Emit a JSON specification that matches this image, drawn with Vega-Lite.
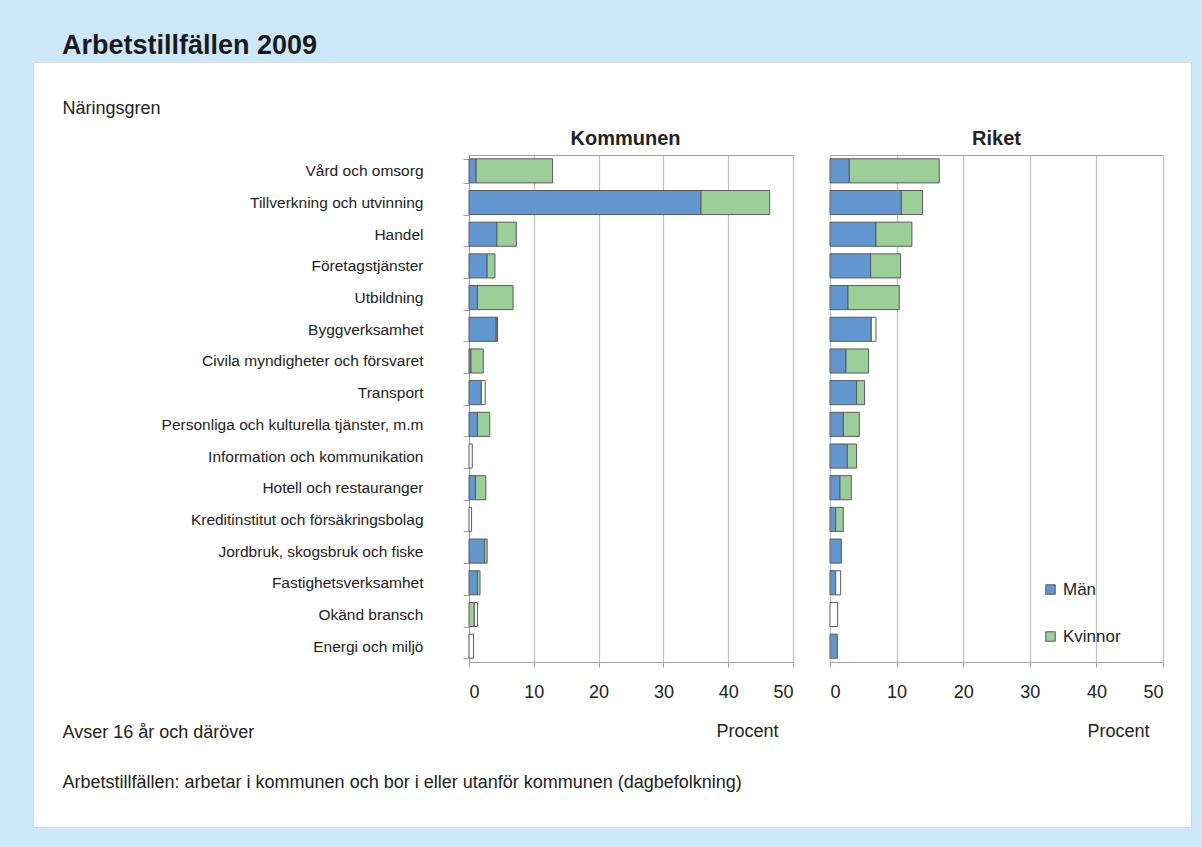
{
  "$schema": "https://vega.github.io/schema/vega-lite/v6.json",
  "width": 1158,
  "height": 765,
  "autosize": {"type": "none"},
  "padding": {"left": 33, "top": 62, "right": 11, "bottom": 20},
  "background": "#cce8fa",
  "view": {"fill": "#ffffff", "stroke": "#d8d8d8"},
  "title": {
    "text": "Arbetstillfällen 2009",
    "anchor": "start",
    "frame": "group",
    "dx": 29,
    "offset": -26,
    "baseline": "alphabetic",
    "font": "Liberation Sans",
    "fontSize": 27,
    "fontWeight": "bold",
    "color": "#1a1a1a"
  },
  "config": {
    "font": "Liberation Sans",
    "axis": {"labelColor": "#222222", "titleColor": "#222222", "labelFont": "Liberation Sans", "titleFont": "Liberation Sans"}
  },
  "datasets": {
    "kommunen": [
      {"bransch": "Vård och omsorg", "kon": "Män", "procent": 1.1},
      {"bransch": "Vård och omsorg", "kon": "Kvinnor", "procent": 11.8},
      {"bransch": "Tillverkning och utvinning", "kon": "Män", "procent": 35.8},
      {"bransch": "Tillverkning och utvinning", "kon": "Kvinnor", "procent": 10.6},
      {"bransch": "Handel", "kon": "Män", "procent": 4.3},
      {"bransch": "Handel", "kon": "Kvinnor", "procent": 3.0},
      {"bransch": "Företagstjänster", "kon": "Män", "procent": 2.8},
      {"bransch": "Företagstjänster", "kon": "Kvinnor", "procent": 1.2},
      {"bransch": "Utbildning", "kon": "Män", "procent": 1.3},
      {"bransch": "Utbildning", "kon": "Kvinnor", "procent": 5.5},
      {"bransch": "Byggverksamhet", "kon": "Män", "procent": 4.2},
      {"bransch": "Byggverksamhet", "kon": "Kvinnor", "procent": 0.2},
      {"bransch": "Civila myndigheter och försvaret", "kon": "Män", "procent": 0.3},
      {"bransch": "Civila myndigheter och försvaret", "kon": "Kvinnor", "procent": 1.9},
      {"bransch": "Transport", "kon": "Män", "procent": 1.9},
      {"bransch": "Transport", "kon": "Ej angivet", "procent": 0.6},
      {"bransch": "Personliga och kulturella tjänster, m.m", "kon": "Män", "procent": 1.3},
      {"bransch": "Personliga och kulturella tjänster, m.m", "kon": "Kvinnor", "procent": 1.9},
      {"bransch": "Information och kommunikation", "kon": "Ej angivet", "procent": 0.5},
      {"bransch": "Hotell och restauranger", "kon": "Män", "procent": 1.0},
      {"bransch": "Hotell och restauranger", "kon": "Kvinnor", "procent": 1.6},
      {"bransch": "Kreditinstitut och försäkringsbolag", "kon": "Ej angivet", "procent": 0.4},
      {"bransch": "Jordbruk, skogsbruk och fiske", "kon": "Män", "procent": 2.4},
      {"bransch": "Jordbruk, skogsbruk och fiske", "kon": "Kvinnor", "procent": 0.4},
      {"bransch": "Fastighetsverksamhet", "kon": "Män", "procent": 1.3},
      {"bransch": "Fastighetsverksamhet", "kon": "Kvinnor", "procent": 0.4},
      {"bransch": "Okänd bransch", "kon": "Ej angivet", "procent": 0.5},
      {"bransch": "Okänd bransch", "kon": "Kvinnor", "procent": 0.8},
      {"bransch": "Energi och miljö", "kon": "Ej angivet", "procent": 0.7}
    ],
    "riket": [
      {"bransch": "Vård och omsorg", "kon": "Män", "procent": 2.9},
      {"bransch": "Vård och omsorg", "kon": "Kvinnor", "procent": 13.5},
      {"bransch": "Tillverkning och utvinning", "kon": "Män", "procent": 10.7},
      {"bransch": "Tillverkning och utvinning", "kon": "Kvinnor", "procent": 3.2},
      {"bransch": "Handel", "kon": "Män", "procent": 6.9},
      {"bransch": "Handel", "kon": "Kvinnor", "procent": 5.4},
      {"bransch": "Företagstjänster", "kon": "Män", "procent": 6.1},
      {"bransch": "Företagstjänster", "kon": "Kvinnor", "procent": 4.5},
      {"bransch": "Utbildning", "kon": "Män", "procent": 2.7},
      {"bransch": "Utbildning", "kon": "Kvinnor", "procent": 7.7},
      {"bransch": "Byggverksamhet", "kon": "Män", "procent": 6.2},
      {"bransch": "Byggverksamhet", "kon": "Ej angivet", "procent": 0.7},
      {"bransch": "Civila myndigheter och försvaret", "kon": "Män", "procent": 2.4},
      {"bransch": "Civila myndigheter och försvaret", "kon": "Kvinnor", "procent": 3.4},
      {"bransch": "Transport", "kon": "Män", "procent": 4.0},
      {"bransch": "Transport", "kon": "Kvinnor", "procent": 1.2},
      {"bransch": "Personliga och kulturella tjänster, m.m", "kon": "Män", "procent": 2.0},
      {"bransch": "Personliga och kulturella tjänster, m.m", "kon": "Kvinnor", "procent": 2.4},
      {"bransch": "Information och kommunikation", "kon": "Män", "procent": 2.6},
      {"bransch": "Information och kommunikation", "kon": "Kvinnor", "procent": 1.4},
      {"bransch": "Hotell och restauranger", "kon": "Män", "procent": 1.5},
      {"bransch": "Hotell och restauranger", "kon": "Kvinnor", "procent": 1.7},
      {"bransch": "Kreditinstitut och försäkringsbolag", "kon": "Män", "procent": 0.85},
      {"bransch": "Kreditinstitut och försäkringsbolag", "kon": "Kvinnor", "procent": 1.15},
      {"bransch": "Jordbruk, skogsbruk och fiske", "kon": "Män", "procent": 1.7},
      {"bransch": "Fastighetsverksamhet", "kon": "Män", "procent": 0.85},
      {"bransch": "Fastighetsverksamhet", "kon": "Ej angivet", "procent": 0.75},
      {"bransch": "Okänd bransch", "kon": "Ej angivet", "procent": 1.15},
      {"bransch": "Energi och miljö", "kon": "Män", "procent": 1.1}
    ]
  },
  "layer": [
    {
      "data": {"name": "kommunen"},
      "mark": {"type": "bar", "stroke": "#5a5a5a", "strokeWidth": 1},
      "encoding": {
        "y": {
          "field": "bransch", "type": "nominal",
          "sort": ["Vård och omsorg", "Tillverkning och utvinning", "Handel", "Företagstjänster", "Utbildning", "Byggverksamhet", "Civila myndigheter och försvaret", "Transport", "Personliga och kulturella tjänster, m.m", "Information och kommunikation", "Hotell och restauranger", "Kreditinstitut och försäkringsbolag", "Jordbruk, skogsbruk och fiske", "Fastighetsverksamhet", "Okänd bransch", "Energi och miljö"],
          "scale": {"range": [93, 600], "paddingInner": 0.24, "paddingOuter": 0.12},
          "axis": {
            "orient": "left", "offset": -436,
            "domain": true, "domainColor": "#a0a0a0",
            "ticks": true, "tickBand": "extent", "tickSize": 6, "tickColor": "#a0a0a0",
            "labelFontSize": 15.5, "labelPadding": 40, "labelLimit": 400,
            "grid": false,
            "title": "Näringsgren", "titleAngle": 0, "titleX": -407, "titleY": 46,
            "titleAlign": "left", "titleBaseline": "middle", "titleFontSize": 18, "titleFontWeight": "normal"
          }
        },
        "x": {
          "field": "procent", "type": "quantitative",
          "scale": {"domain": [0, 50], "range": [436, 760], "nice": false, "zero": true},
          "axis": {
            "orient": "bottom", "offset": -165, "values": [0, 10, 20, 30, 40, 50],
            "grid": false,
            "domainColor": "#a0a0a0", "tickColor": "#a0a0a0", "tickSize": 5,
            "labelFontSize": 18, "labelPadding": 16,
            "title": "Procent", "titleX": 745, "titleY": 69, "titleAlign": "right", "titleBaseline": "middle",
            "titleFontSize": 18, "titleFontWeight": "normal"
          }
        },
        "color": {
          "field": "kon", "type": "nominal",
          "scale": {"domain": ["Män", "Kvinnor", "Ej angivet"], "range": ["#6196d0", "#9bcf97", "#ffffff"]},
          "legend": {
            "values": ["Män", "Kvinnor"], "title": null, "orient": "none",
            "legendX": 1009, "legendY": 519, "symbolType": "square", "symbolSize": 90,
            "symbolStrokeColor": "#444444", "symbolStrokeWidth": 1,
            "labelFontSize": 17, "labelColor": "#222222", "rowPadding": 29, "labelOffset": 4
          }
        },
        "order": {"field": "kon", "sort": "descending"}
      }
    },
    {
      "data": {"name": "riket"},
      "mark": {"type": "bar", "stroke": "#5a5a5a", "strokeWidth": 1},
      "encoding": {
        "y": {
          "field": "bransch", "type": "nominal",
          "sort": ["Vård och omsorg", "Tillverkning och utvinning", "Handel", "Företagstjänster", "Utbildning", "Byggverksamhet", "Civila myndigheter och försvaret", "Transport", "Personliga och kulturella tjänster, m.m", "Information och kommunikation", "Hotell och restauranger", "Kreditinstitut och försäkringsbolag", "Jordbruk, skogsbruk och fiske", "Fastighetsverksamhet", "Okänd bransch", "Energi och miljö"],
          "axis": {
            "orient": "left", "offset": 0, "domain": false, "ticks": false, "labels": false, "grid": false,
            "title": ["Avser 16 år och däröver", "Arbetstillfällen: arbetar i kommunen och bor i eller utanför kommunen (dagbefolkning)"],
            "titleAngle": 0, "titleX": 29, "titleY": 675, "titleAlign": "left", "titleBaseline": "alphabetic",
            "titleLineHeight": 50, "titleFontSize": 18, "titleFontWeight": "normal"
          }
        },
        "x": {
          "field": "procent", "type": "quantitative",
          "scale": {"domain": [0, 50], "range": [797, 1130], "nice": false, "zero": true},
          "axis": {
            "orient": "bottom", "offset": -165, "values": [0, 10, 20, 30, 40, 50],
            "grid": false,
            "domainColor": "#a0a0a0", "tickColor": "#a0a0a0", "tickSize": 5,
            "labelFontSize": 18, "labelPadding": 16,
            "title": "Procent", "titleX": 1116, "titleY": 69, "titleAlign": "right", "titleBaseline": "middle",
            "titleFontSize": 18, "titleFontWeight": "normal"
          }
        },
        "color": {"field": "kon", "type": "nominal"},
        "order": {"field": "kon", "sort": "descending"}
      }
    },
    {
      "data": {"name": "kommunen"},
      "mark": {"type": "bar", "opacity": 0},
      "encoding": {
        "y": {
          "field": "bransch", "type": "nominal", "axis": null,
          "sort": ["Vård och omsorg", "Tillverkning och utvinning", "Handel", "Företagstjänster", "Utbildning", "Byggverksamhet", "Civila myndigheter och försvaret", "Transport", "Personliga och kulturella tjänster, m.m", "Information och kommunikation", "Hotell och restauranger", "Kreditinstitut och försäkringsbolag", "Jordbruk, skogsbruk och fiske", "Fastighetsverksamhet", "Okänd bransch", "Energi och miljö"]
        },
        "x": {
          "field": "procent", "type": "quantitative", "stack": null,
          "scale": {"domain": [0, 50], "range": [436, 760], "nice": false, "zero": true},
          "axis": {
            "orient": "top", "offset": -93, "labels": false, "grid": false,
            "values": [0, 10, 20, 30, 40, 50],
            "ticks": true, "tickSize": -507, "tickColor": "#c0c0c0", "tickWidth": 1.2,
            "domain": true, "domainColor": "#a0a0a0",
            "title": "Kommunen", "titleX": 592, "titleY": -11, "titleAlign": "center", "titleBaseline": "alphabetic",
            "titleFontSize": 20, "titleFontWeight": "bold"
          }
        }
      }
    },
    {
      "data": {"name": "riket"},
      "mark": {"type": "bar", "opacity": 0},
      "encoding": {
        "y": {
          "field": "bransch", "type": "nominal", "axis": null,
          "sort": ["Vård och omsorg", "Tillverkning och utvinning", "Handel", "Företagstjänster", "Utbildning", "Byggverksamhet", "Civila myndigheter och försvaret", "Transport", "Personliga och kulturella tjänster, m.m", "Information och kommunikation", "Hotell och restauranger", "Kreditinstitut och försäkringsbolag", "Jordbruk, skogsbruk och fiske", "Fastighetsverksamhet", "Okänd bransch", "Energi och miljö"]
        },
        "x": {
          "field": "procent", "type": "quantitative", "stack": null,
          "scale": {"domain": [0, 50], "range": [797, 1130], "nice": false, "zero": true},
          "axis": {
            "orient": "top", "offset": -93, "labels": false, "grid": false,
            "values": [0, 10, 20, 30, 40, 50],
            "ticks": true, "tickSize": -507, "tickColor": "#c0c0c0", "tickWidth": 1.2,
            "domain": true, "domainColor": "#a0a0a0",
            "title": "Riket", "titleX": 963, "titleY": -11, "titleAlign": "center", "titleBaseline": "alphabetic",
            "titleFontSize": 20, "titleFontWeight": "bold"
          }
        }
      }
    }
  ],
  "resolve": {
    "scale": {"x": "independent"},
    "axis": {"x": "independent", "y": "independent"}
  }
}
